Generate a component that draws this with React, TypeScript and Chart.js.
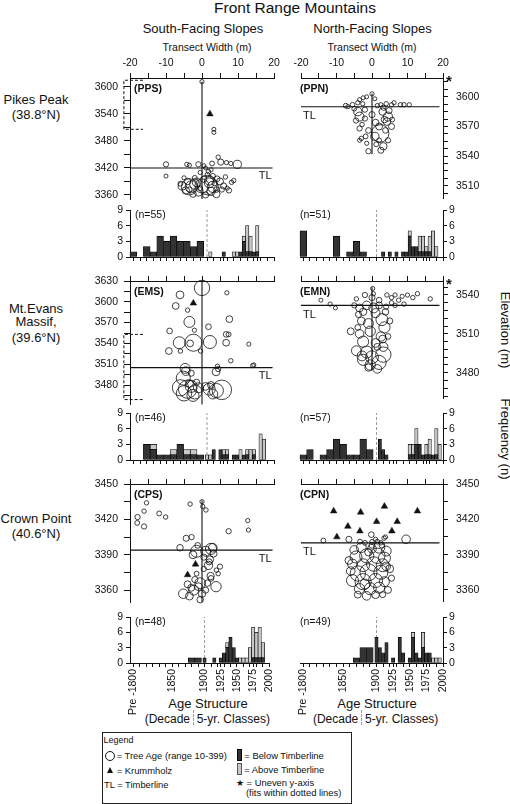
import React, { useEffect, useRef } from 'react';
import { Chart, registerables } from 'chart.js';

Chart.register(...registerables);

const FONT = "'Liberation Sans', Arial, Helvetica, sans-serif";
const INK = '#111111';
const DARK = '#333333';
const LIGHT = '#c8c8c8';

// ---------- categories & tick labels ----------
const DECADES = [1790, 1800, 1810, 1820, 1830, 1840, 1850, 1860, 1870, 1880, 1890];
const FIVES = [1900, 1905, 1910, 1915, 1920, 1925, 1930, 1935, 1940, 1945, 1950, 1955, 1960, 1965, 1970, 1975, 1980, 1985, 1990, 1995];
const AGE_AXIS_TICKS = [1790, 1800, 1810, 1820, 1830, 1840, 1850, 1860, 1870, 1880, 1890, 1900, 1910, 1920, 1925, 1930, 1940, 1950, 1960, 1970, 1975, 1980, 1990, 2000];
const AGE_AXIS_LABELS: Record<number, string> = { 1790: 'Pre -1800', 1850: '1850', 1900: '1900', 1925: '1925', 1950: '1950', 1975: '1975', 2000: '2000' };
const AGE_MIN = 1785;
const AGE_MAX = 2000;
const TRANSECT_TICKS = [-20, -15, -10, -5, 0, 5, 10, 15, 20];
const TRANSECT_LABELS = [-20, -10, 0, 10, 20];
const FREQ_TICKS = [0, 3, 6, 9];

const PPS_TICKS = [3360, 3390, 3420, 3450, 3480, 3510, 3540, 3570, 3600];
const PPS_LABELS = [3360, 3420, 3480, 3540, 3600];
const PPN_TICKS = [3502.5, 3510, 3517.5, 3525, 3532.5, 3540, 3547.5, 3555, 3562.5, 3570, 3577.5, 3585, 3592.5, 3600, 3607.5, 3615];
const PPN_LABELS = [3510, 3540, 3570, 3600];
const EMS_TICKS = [3465, 3480, 3495, 3510, 3525, 3540, 3555, 3570, 3585, 3600, 3615, 3630];
const EMS_LABELS = [3480, 3510, 3540, 3570, 3600, 3630];
const EMN_TICKS = [3462, 3468, 3474, 3480, 3486, 3492, 3498, 3504, 3510, 3516, 3522, 3528, 3534, 3540, 3546];
const EMN_LABELS = [3480, 3510, 3540];
const CP_TICKS = [3360, 3375, 3390, 3405, 3420, 3435, 3450];
const CP_LABELS = [3360, 3390, 3420, 3450];

// ---------- transect points: x (m), elevation (m), tree age (yr) ----------
const ppsX = [0, 3.3, 3.3, -10, -4.2, -3.5, -1, 2.8, 4.5, 5.2, 6.8, 8, 9.8, -10, 1, 2.5, -0.5, 1.5, 3, -2, 0.5, 4.2, 6.5, -4, -1.5, 2, 5, -5.5, -3, 0, 3, 6, -4.5, -1, 2.5, 5.5, -2.5, 1, 4, 8.8, 8.2, 7, -6, -5, 1.8, 0.5, 4, -3.5, -0.5, 3.5, 7.5, 1.5, -3.5, -2, 2];
const ppsY = [3612, 3506, 3499, 3428, 3428, 3426, 3428, 3430, 3444, 3433, 3432, 3430, 3428, 3402, 3420, 3416, 3410, 3405, 3402, 3398, 3395, 3396, 3400, 3390, 3388, 3387, 3390, 3380, 3378, 3380, 3378, 3380, 3370, 3368, 3368, 3372, 3362, 3360, 3362, 3392, 3388, 3375, 3385, 3398, 3412, 3425, 3372, 3372, 3375, 3386, 3370, 3382, 3378, 3384, 3392];
const ppsAge = [15, 10, 10, 40, 20, 15, 40, 30, 20, 60, 15, 15, 110, 10, 10, 15, 15, 25, 40, 30, 60, 50, 20, 70, 120, 150, 80, 110, 200, 250, 180, 60, 90, 140, 110, 40, 70, 60, 90, 20, 20, 15, 30, 15, 20, 10, 50, 40, 30, 35, 40, 380, 300, 160, 130];
const ppsKX = [2.2];
const ppsKY = [3540];

const ppnX = [0, 0.8, -2.5, -3.5, -1.5, -7.4, -6.8, -5.5, -4, -2.6, 1.5, 2.5, 4, 5.5, 6.2, 8, 9, 10.5, 3.2, -4, -3.5, -2, 3, 4.5, 3.5, 4.2, 5.5, 2, -3.5, -2.8, 2.3, 0.8, -1, -3, -3.5, -1.8, 3.2, 2.5, 1.2, 4.5, -1.5, 5.7, -4.5, 0, -5, 1, 3.8, -2, 4.8, -1, 2];
const ppnY = [3603, 3598, 3599, 3597, 3600, 3591, 3590, 3592, 3594, 3593, 3591, 3592, 3593, 3592, 3594, 3592, 3592, 3592, 3589, 3585, 3580, 3587, 3585, 3580, 3577, 3575, 3570, 3570, 3568, 3572, 3563, 3560, 3566, 3558, 3556, 3560, 3550, 3546, 3552, 3556, 3553, 3577, 3576, 3582, 3588, 3574, 3566, 3578, 3586, 3545, 3556];
const ppnAge = [15, 10, 10, 15, 10, 30, 15, 25, 20, 15, 20, 15, 20, 15, 15, 20, 20, 15, 40, 110, 130, 40, 90, 130, 70, 100, 60, 80, 40, 20, 330, 110, 50, 20, 10, 30, 90, 60, 30, 40, 15, 30, 40, 60, 30, 70, 50, 40, 60, 40, 30];
const ppnKX: number[] = [];
const ppnKY: number[] = [];

const emsX = [0, -6.1, 6.9, -7.3, -4, -3.5, 7.6, -2.1, 1.8, -9, -6.3, -3.3, -2.4, 2.2, 6.7, 7.4, 6.7, -9.2, -6, -0.4, 8, 13, 14.1, 4.3, -4.7, 3.9, -5.2, -6, -4, -3, -2, -5, -1, -3.5, -2.5, 2, 4, 5.5, 3, 1, -4.5, -3, -1.5, 2.5, 4.5, 14.4];
const emsY = [3620, 3610, 3613, 3594, 3588, 3571, 3575, 3559, 3564, 3558, 3541, 3540, 3541, 3542, 3553, 3553, 3541, 3529, 3529, 3529, 3515, 3539, 3508, 3507, 3504, 3499, 3490, 3476, 3474, 3478, 3470, 3468, 3476, 3482, 3465, 3474, 3472, 3473, 3467, 3478, 3500, 3497, 3484, 3480, 3503, 3509];
const emsAge = [280, 100, 15, 75, 20, 175, 75, 15, 50, 50, 200, 75, 320, 225, 50, 30, 75, 75, 20, 20, 20, 15, 20, 20, 150, 100, 250, 300, 350, 200, 250, 280, 150, 100, 200, 200, 250, 380, 150, 100, 120, 60, 60, 80, 40, 10];
const emsKX = [-2.4];
const emsKY = [3598];

const emnX = [0.4, 0.2, 4.2, 5.5, 6.5, 7.5, 8.5, 10, 11.5, 12.8, 16.4, 9, 6.5, 5.5, -14.4, -11.8, -10.3, -4.4, -3.5, -1.5, 0.5, 2, -2.5, 1, 2.8, -3, -1, 3.5, -3.5, -0.5, 2.5, -2.5, 1, 3.2, -4.4, -1.5, 3.2, 0, -2.5, 2, -0.5, 1.5, -3.8, 3.8, 4.5, -4, 0, -2, 2, -5, 4, -6, 5, 1.5, -1, 3, -2.8];
const emnY = [3541, 3545, 3540, 3538, 3540, 3536, 3539, 3540, 3538, 3541, 3537, 3533, 3532, 3534, 3536, 3533, 3530, 3537, 3530, 3532, 3530, 3532, 3527, 3526, 3521, 3520, 3518, 3515, 3510, 3512, 3508, 3504, 3503, 3500, 3497, 3496, 3494, 3492, 3490, 3488, 3486, 3500, 3525, 3527, 3508, 3515, 3538, 3540, 3536, 3532, 3531, 3512, 3520, 3483, 3484, 3506, 3493];
const emnAge = [15, 15, 20, 15, 15, 20, 15, 15, 20, 20, 20, 20, 20, 20, 10, 15, 10, 20, 100, 120, 150, 80, 90, 130, 200, 100, 150, 180, 120, 160, 140, 180, 120, 130, 150, 200, 280, 220, 180, 250, 160, 80, 60, 70, 50, 50, 60, 40, 50, 40, 40, 80, 60, 120, 90, 100, 150];
const emnKX: number[] = [];
const emnKY: number[] = [];

const cpsX = [-15.4, -16.1, -17.9, -18, -16.1, -11.9, -10.1, -3.3, 0, 0.2, 1.1, 12.7, 12.9, 7.4, -4.4, -2.9, -6.1, -1.2, -1.5, 2.5, 2.2, 1.8, 2.4, 4, 4.5, 3, -2.5, 0.5, 1, 3.2, -5.2, -2.3, -1, 3.9, -3.5, 0, 1.5, -0.5, -2, -3, 1, 2.5, -1.5, 0.5, -4, 2, 5, -0.5];
const cpsY = [3434, 3427, 3422, 3417, 3414, 3425, 3422, 3433, 3435, 3431, 3428, 3419, 3411, 3410, 3404, 3405, 3396, 3398, 3393, 3395, 3386, 3381, 3372, 3377, 3374, 3396, 3390, 3388, 3393, 3391, 3357, 3360, 3363, 3363, 3355, 3357, 3366, 3366, 3369, 3362, 3360, 3370, 3374, 3378, 3365, 3384, 3380, 3352];
const cpsAge = [20, 20, 40, 30, 40, 30, 20, 20, 15, 15, 20, 15, 15, 40, 60, 40, 70, 50, 200, 180, 90, 110, 90, 20, 20, 120, 100, 60, 150, 80, 140, 150, 100, 160, 100, 90, 70, 170, 60, 80, 60, 50, 30, 40, 80, 60, 40, 70];
const cpsKX = [-1.8, -4];
const cpsKY = [3382, 3373];

const cpnX = [-13.7, -6.5, -0.2, 9.6, 3.4, 3.8, -3.4, -2, 0, 1.5, 2.5, 1, -5, -3, 0, 2, 4, -4.5, -1.5, 1.5, 3.5, -5.5, -2.5, 0.5, 3, -4, -1, 2.5, -5.5, -2.5, 1, 3.5, -3.5, -0.5, 2, 4.5, -6, 5, -1.5, 1, 3, -4, 0, 2.8, -1, -6.5, 5.5, -2, 4];
const cpnY = [3402, 3403, 3407, 3403, 3404, 3405, 3401, 3400, 3401, 3401, 3400, 3403, 3394, 3396, 3395, 3396, 3393, 3388, 3389, 3389, 3387, 3382, 3381, 3382, 3381, 3374, 3375, 3375, 3368, 3367, 3368, 3367, 3361, 3361, 3362, 3360, 3376, 3378, 3355, 3356, 3356, 3356, 3398, 3398, 3392, 3385, 3370, 3365, 3380];
const cpnAge = [30, 60, 50, 120, 20, 15, 30, 30, 20, 30, 20, 15, 120, 150, 120, 180, 150, 200, 250, 280, 200, 150, 220, 260, 220, 280, 320, 250, 200, 300, 250, 150, 160, 200, 180, 80, 120, 100, 120, 100, 60, 80, 60, 50, 90, 100, 60, 150, 120];
const cpnKX = [-10.8, -3.2, 3.5, 12.8, -6.8, 1.3, 7.1, -3.4, 5.6, -9.9];
const cpnKY = [3427, 3426, 3431, 3427, 3414, 3418, 3418, 3410, 3410, 3405];

// ---------- age structure (frequency per class) ----------
const ppsDecDark = [1, 0, 2, 1, 4, 3, 4, 3, 3, 2, 3];
const ppsDecLight = [0, 0, 0, 0, 0, 0, 0, 0, 0, 0, 0];
const ppsFiveDark = [0, 0, 0, 0, 0, 1, 0, 0, 0, 0, 1, 3, 1, 1, 1, 1, 0, 0, 0, 0];
const ppsFiveLight = [0, 1, 0, 0, 0, 0, 0, 0, 1, 1, 0, 1, 5, 3, 0, 5, 0, 0, 0, 0];

const ppnDecDark = [5, 0, 0, 0, 0, 4, 0, 1, 3, 1, 0];
const ppnDecLight = [0, 0, 0, 0, 0, 0, 0, 0, 0, 0, 0];
const ppnFiveDark = [0, 0, 1, 0, 1, 0, 1, 0, 1, 1, 4, 2, 2, 1, 1, 1, 1, 0, 0, 0];
const ppnFiveLight = [0, 0, 0, 0, 0, 0, 0, 0, 0, 0, 1, 0, 0, 3, 3, 1, 3, 5, 2, 0];

const emsDecDark = [0, 0, 3, 2, 1, 1, 1, 3, 1, 1, 1];
const emsDecLight = [0, 0, 0, 1, 0, 0, 1, 0, 1, 1, 0];
const emsFiveDark = [0, 0, 2, 0, 2, 1, 1, 0, 1, 1, 0, 1, 1, 0, 1, 0, 0, 0, 0, 0];
const emsFiveLight = [1, 1, 0, 0, 0, 1, 1, 0, 0, 0, 2, 0, 1, 2, 1, 0, 5, 4, 0, 0];

const emnDecDark = [1, 2, 0, 1, 2, 4, 3, 1, 1, 4, 2];
const emnDecLight = [0, 0, 0, 0, 0, 0, 0, 0, 0, 0, 0];
const emnFiveDark = [0, 4, 2, 1, 0, 0, 0, 0, 0, 0, 1, 1, 3, 3, 1, 1, 1, 1, 1, 0];
const emnFiveLight = [0, 0, 0, 0, 0, 0, 0, 0, 0, 0, 2, 2, 3, 0, 0, 2, 3, 0, 5, 3];

const cpsDecDark = [0, 0, 0, 0, 0, 0, 0, 0, 0, 1, 1];
const cpsDecLight = [0, 0, 0, 0, 0, 0, 0, 0, 0, 0, 0];
const cpsFiveDark = [1, 0, 0, 1, 0, 1, 2, 3, 5, 3, 1, 0, 0, 0, 0, 1, 1, 1, 1, 0];
const cpsFiveLight = [0, 0, 0, 0, 0, 0, 0, 1, 0, 0, 0, 1, 1, 1, 3, 6, 5, 6, 3, 0];

const cpnDecDark = [0, 0, 0, 0, 0, 0, 0, 0, 1, 3, 3];
const cpnDecLight = [0, 0, 0, 0, 0, 0, 0, 0, 0, 0, 0];
const cpnFiveDark = [5, 3, 2, 4, 0, 1, 0, 5, 2, 0, 1, 5, 2, 1, 3, 2, 2, 0, 0, 0];
const cpnFiveLight = [0, 0, 0, 0, 0, 0, 0, 0, 0, 0, 0, 1, 0, 0, 3, 0, 0, 1, 1, 1];

// ---------- helpers ----------
const radiusForAge = (age: number) => 1.8 + age * 0.021;

const YW = 46;
const XH = 36;
const PAD = 14;
const PADB = 14;
const HYW = 30;
const BR_IN = -16.4;
const BR_OUT = -21.7;

type Box = { l: number; t: number; r: number; b: number };

type ScatterSpec = {
  code: string; side: 'left' | 'right';
  xs: number[]; ys: number[]; ages: number[]; kx: number[]; ky: number[];
  tl: number; tlFrom: number; tlTo: number;
  stem: number[] | null; bracket: number[] | null;
  yMin: number; yMax: number; yTicks: number[]; yLabels: number[];
  dashed: boolean; star: boolean; xLabels: boolean; box: Box;
};

type HistSpec = {
  n: string; side: 'left' | 'right';
  decDark: number[]; decLight: number[]; fiveDark: number[]; fiveLight: number[];
  labels: boolean; box: Box;
};

const SCATTERS: ScatterSpec[] = [
  { code: '(PPS)', side: 'left', xs: ppsX, ys: ppsY, ages: ppsAge, kx: ppsKX, ky: ppsKY, tl: 3420, tlFrom: -20, tlTo: 19.6, stem: [3612, 3351], bracket: [3615, 3506], yMin: 3351, yMax: 3620, yTicks: PPS_TICKS, yLabels: PPS_LABELS, dashed: false, star: false, xLabels: true, box: { l: 130, t: 78, r: 274, b: 199 } },
  { code: '(PPN)', side: 'right', xs: ppnX, ys: ppnY, ages: ppnAge, kx: ppnKX, ky: ppnKY, tl: 3590, tlFrom: -20, tlTo: 19, stem: [3603, 3542], bracket: null, yMin: 3497, yMax: 3619, yTicks: PPN_TICKS, yLabels: PPN_LABELS, dashed: true, star: true, xLabels: true, box: { l: 301, t: 78, r: 443, b: 199 } },
  { code: '(EMS)', side: 'left', xs: emsX, ys: emsY, ages: emsAge, kx: emsKX, ky: emsKY, tl: 3505, tlFrom: -20, tlTo: 19.6, stem: [3630, 3452], bracket: [3553, 3459], yMin: 3452.6, yMax: 3630, yTicks: EMS_TICKS, yLabels: EMS_LABELS, dashed: false, star: false, xLabels: false, box: { l: 130, t: 281, r: 274, b: 404 } },
  { code: '(EMN)', side: 'right', xs: emnX, ys: emnY, ages: emnAge, kx: emnKX, ky: emnKY, tl: 3532, tlFrom: -20, tlTo: 19, stem: [3546, 3482], bracket: null, yMin: 3460, yMax: 3550.8, yTicks: EMN_TICKS, yLabels: EMN_LABELS, dashed: true, star: true, xLabels: false, box: { l: 301, t: 281, r: 443, b: 399 } },
  { code: '(CPS)', side: 'left', xs: cpsX, ys: cpsY, ages: cpsAge, kx: cpsKX, ky: cpsKY, tl: 3394, tlFrom: -20, tlTo: 19.6, stem: [3436, 3350], bracket: null, yMin: 3350, yMax: 3450, yTicks: CP_TICKS, yLabels: CP_LABELS, dashed: false, star: false, xLabels: false, box: { l: 130, t: 484, r: 274, b: 602 } },
  { code: '(CPN)', side: 'right', xs: cpnX, ys: cpnY, ages: cpnAge, kx: cpnKX, ky: cpnKY, tl: 3400, tlFrom: -20, tlTo: 19, stem: null, bracket: null, yMin: 3350, yMax: 3450, yTicks: CP_TICKS, yLabels: CP_LABELS, dashed: false, star: false, xLabels: false, box: { l: 301, t: 484, r: 443, b: 602 } },
];

const HISTS: HistSpec[] = [
  { n: '(n=55)', side: 'left', decDark: ppsDecDark, decLight: ppsDecLight, fiveDark: ppsFiveDark, fiveLight: ppsFiveLight, labels: false, box: { l: 130, t: 210, r: 274, b: 257 } },
  { n: '(n=51)', side: 'right', decDark: ppnDecDark, decLight: ppnDecLight, fiveDark: ppnFiveDark, fiveLight: ppnFiveLight, labels: false, box: { l: 300, t: 210, r: 443, b: 257 } },
  { n: '(n=46)', side: 'left', decDark: emsDecDark, decLight: emsDecLight, fiveDark: emsFiveDark, fiveLight: emsFiveLight, labels: false, box: { l: 130, t: 413, r: 274, b: 460 } },
  { n: '(n=57)', side: 'right', decDark: emnDecDark, decLight: emnDecLight, fiveDark: emnFiveDark, fiveLight: emnFiveLight, labels: false, box: { l: 300, t: 413, r: 443, b: 460 } },
  { n: '(n=48)', side: 'left', decDark: cpsDecDark, decLight: cpsDecLight, fiveDark: cpsFiveDark, fiveLight: cpsFiveLight, labels: true, box: { l: 130, t: 617, r: 274, b: 663 } },
  { n: '(n=49)', side: 'right', decDark: cpnDecDark, decLight: cpnDecLight, fiveDark: cpnFiveDark, fiveLight: cpnFiveLight, labels: true, box: { l: 300, t: 617, r: 443, b: 663 } },
];

function scatterFrame(s: ScatterSpec) {
  const w = s.box.r - s.box.l;
  const h = s.box.b - s.box.t;
  if (s.side === 'left') return { x: s.box.l - YW, y: s.box.t - XH, w: YW + w + PAD, h: XH + h + PADB };
  return { x: s.box.l - PAD, y: s.box.t - XH, w: PAD + w + YW, h: XH + h + PADB };
}

function histFrame(hs: HistSpec) {
  const w = hs.box.r - hs.box.l;
  const h = hs.box.b - hs.box.t;
  const xh = hs.labels ? 62 : 10;
  if (hs.side === 'left') return { x: hs.box.l - HYW, y: hs.box.t - 10, w: HYW + w + 10, h: 10 + h + xh };
  return { x: hs.box.l - 10, y: hs.box.t - 10, w: 10 + w + HYW, h: 10 + h + xh };
}

const axisFont = { family: FONT, size: 10.5 };

function scatterConfig(s: ScatterSpec): any {
  const datasets: any[] = [];
  datasets.push({ type: 'line', data: [{ x: s.tlFrom, y: s.tl }, { x: s.tlTo, y: s.tl }], borderColor: INK, borderWidth: 1.1, pointRadius: 0, clip: false, fill: false });
  if (s.stem) datasets.push({ type: 'line', data: [{ x: 0, y: s.stem[0] }, { x: 0, y: s.stem[1] }], borderColor: INK, borderWidth: 1.1, pointRadius: 0, clip: false, fill: false });
  if (s.bracket) datasets.push({ type: 'line', data: [{ x: BR_IN, y: s.bracket[0] }, { x: BR_OUT, y: s.bracket[0] }, { x: BR_OUT, y: s.bracket[1] }, { x: BR_IN, y: s.bracket[1] }], borderColor: INK, borderWidth: 1, borderDash: [3, 2], pointRadius: 0, clip: false, fill: false });
  datasets.push({ type: 'bubble', data: s.xs.map((x, i) => ({ x, y: s.ys[i], r: radiusForAge(s.ages[i]) })), backgroundColor: 'rgba(0,0,0,0)', borderColor: INK, borderWidth: 0.8, clip: false });
  if (s.kx.length) datasets.push({ type: 'scatter', data: s.kx.map((x, i) => ({ x, y: s.ky[i] })), pointStyle: 'triangle', pointRadius: 3.8, backgroundColor: INK, borderColor: INK, borderWidth: 0.5, clip: false, showLine: false });

  const textPlugin = {
    id: 'panelText',
    afterDraw(chart: any) {
      const { ctx, chartArea: a, scales } = chart;
      ctx.save();
      ctx.fillStyle = INK;
      ctx.textBaseline = 'top';
      ctx.textAlign = 'left';
      ctx.font = `bold 10.5px ${FONT}`;
      ctx.fillText(s.code, s.side === 'left' ? a.left + 4 : a.left - 1, a.top + 6);
      ctx.font = `11px ${FONT}`;
      const ty = scales.y.getPixelForValue(s.tl) + 3;
      if (s.side === 'left') {
        ctx.textAlign = 'right';
        ctx.fillText('TL', scales.x.getPixelForValue(s.tlTo) - 1, ty);
      } else {
        ctx.fillText('TL', a.left + 2, ty + 1);
      }
      if (s.star) {
        ctx.textAlign = 'left';
        ctx.font = `bold 15px ${FONT}`;
        ctx.fillText('*', a.right + 3, a.top - 4);
      }
      ctx.restore();
    },
  };

  return {
    type: 'bubble',
    data: { datasets },
    options: {
      responsive: false,
      animation: false,
      events: [],
      layout: { padding: s.side === 'left' ? { left: 0, right: PAD, top: 0, bottom: PADB } : { left: PAD, right: 0, top: 0, bottom: PADB } },
      plugins: { legend: { display: false }, tooltip: { enabled: false } },
      scales: {
        x: {
          type: 'linear', position: 'top', min: -20, max: 20,
          afterBuildTicks: (sc: any) => { sc.ticks = TRANSECT_TICKS.map((v) => ({ value: v })); },
          afterFit: (sc: any) => { sc.height = XH; },
          border: { display: true, color: INK, width: 1 },
          grid: { drawOnChartArea: false, drawTicks: true, tickLength: 5, color: INK, tickColor: INK, lineWidth: 1 },
          ticks: { display: s.xLabels, autoSkip: false, maxRotation: 0, minRotation: 0, padding: 4, color: INK, font: axisFont, callback: (v: any) => (TRANSECT_LABELS.includes(v) ? String(v) : '') },
        },
        y: {
          type: 'linear', position: s.side, min: s.yMin, max: s.yMax,
          afterBuildTicks: (sc: any) => { sc.ticks = s.yTicks.map((v) => ({ value: v })); },
          afterFit: (sc: any) => { sc.width = YW; },
          border: { display: true, color: INK, width: 1, dash: s.dashed ? [3, 2] : [] },
          grid: { drawOnChartArea: false, drawTicks: true, tickLength: s.side === 'left' ? 6 : 5, color: INK, tickColor: INK, lineWidth: 1 },
          ticks: { autoSkip: false, padding: s.side === 'left' ? 6 : 8, color: INK, font: axisFont, callback: (v: any) => (s.yLabels.includes(v) ? String(v) : '') },
        },
      },
    },
    plugins: [textPlugin],
  };
}

function histConfig(hs: HistSpec): any {
  const pxPerYear = (hs.box.r - hs.box.l) / (AGE_MAX - AGE_MIN);
  const decW = pxPerYear * 10;
  const fiveW = pxPerYear * 5;
  const base = { type: 'bar', xAxisID: 'x', yAxisID: 'y', grouped: false, borderColor: '#000', borderWidth: 0.7, borderSkipped: false, clip: false };
  const darkPts = (years: number[], d: number[]) => years.map((yr, i) => ({ x: yr, y: d[i] ? [0, d[i]] : null }));
  const lightPts = (years: number[], d: number[], l: number[]) => years.map((yr, i) => ({ x: yr, y: l[i] ? [d[i], d[i] + l[i]] : null }));
  const datasets: any[] = [
    { ...base, data: darkPts(DECADES, hs.decDark), backgroundColor: DARK, barThickness: decW },
    { ...base, data: lightPts(DECADES, hs.decDark, hs.decLight), backgroundColor: LIGHT, barThickness: decW },
    { ...base, data: darkPts(FIVES, hs.fiveDark), backgroundColor: DARK, barThickness: fiveW },
    { ...base, data: lightPts(FIVES, hs.fiveDark, hs.fiveLight), backgroundColor: LIGHT, barThickness: fiveW },
    { type: 'line', xAxisID: 'x', yAxisID: 'y', data: [{ x: 1900, y: 0 }, { x: 1900, y: 9 }], borderColor: '#9a9a9a', borderWidth: 1, borderDash: [3, 2], pointRadius: 0, fill: false },
  ];
  const textPlugin = {
    id: 'histText',
    afterDraw(chart: any) {
      const { ctx, chartArea: a } = chart;
      ctx.save();
      ctx.fillStyle = INK;
      ctx.textBaseline = 'top';
      ctx.font = `10.5px ${FONT}`;
      ctx.fillText(hs.n, hs.side === 'left' ? a.left + 5 : a.left, a.top);
      ctx.restore();
    },
  };
  return {
    type: 'bar',
    data: { datasets },
    options: {
      responsive: false,
      animation: false,
      events: [],
      layout: { padding: hs.side === 'left' ? { left: 0, right: 10, top: 10, bottom: 0 } : { left: 10, right: 0, top: 10, bottom: 0 } },
      plugins: { legend: { display: false }, tooltip: { enabled: false } },
      scales: {
        x: {
          type: 'linear', position: 'bottom', min: AGE_MIN, max: AGE_MAX, offset: false,
          afterBuildTicks: (sc: any) => { sc.ticks = AGE_AXIS_TICKS.map((v) => ({ value: v })); },
          afterFit: (sc: any) => { sc.height = hs.labels ? 62 : 10; },
          border: { display: true, color: INK, width: 1 },
          grid: { offset: false, drawOnChartArea: false, drawTicks: true, tickLength: 4, color: INK, tickColor: INK, lineWidth: 1 },
          ticks: { display: hs.labels, autoSkip: false, minRotation: 90, maxRotation: 90, padding: 2, color: INK, font: axisFont, callback: (v: any) => AGE_AXIS_LABELS[v] || '' },
        },
        y: {
          type: 'linear', position: hs.side, min: 0, max: 9,
          afterBuildTicks: (sc: any) => { sc.ticks = FREQ_TICKS.map((v) => ({ value: v })); },
          afterFit: (sc: any) => { sc.width = HYW; },
          border: { display: true, color: INK, width: 1 },
          grid: { drawOnChartArea: false, drawTicks: true, tickLength: 4, color: INK, tickColor: INK, lineWidth: 1 },
          ticks: { autoSkip: false, padding: hs.side === 'left' ? 3 : 2, color: INK, font: axisFont },
        },
      },
    },
    plugins: [textPlugin],
  };
}

function ChartCanvas({ x, y, w, h, make }: { x: number; y: number; w: number; h: number; make: () => any }) {
  const ref = useRef<HTMLCanvasElement | null>(null);
  useEffect(() => {
    const chart = new Chart(ref.current as HTMLCanvasElement, make());
    return () => chart.destroy();
  }, []);
  return <canvas ref={ref} width={w} height={h} style={{ position: 'absolute', left: x, top: y, width: w, height: h }} />;
}

function Txt({ x, y, size, children, center = false, bold = false, style = {} }: any) {
  return (
    <div style={{ position: 'absolute', left: x, top: y, fontSize: size, lineHeight: 1, whiteSpace: 'nowrap', fontWeight: bold ? 'bold' : 'normal', transform: center ? 'translateX(-50%)' : undefined, ...style }}>
      {children}
    </div>
  );
}

function VTxt({ cx, cy, size, children }: any) {
  return (
    <div style={{ position: 'absolute', left: cx, top: cy, fontSize: size, lineHeight: 1, whiteSpace: 'nowrap', transform: 'translate(-50%, -50%) rotate(90deg)' }}>
      {children}
    </div>
  );
}

export default function App() {
  return (
    <div style={{ position: 'absolute', left: 0, top: 0, width: 510, height: 804, background: '#fff', fontFamily: FONT, color: INK, overflow: 'hidden' }}>
      <Txt x={295} y={0} size={15.5} center>Front Range Mountains</Txt>
      <Txt x={203} y={21.5} size={13} center>South-Facing Slopes</Txt>
      <Txt x={372.5} y={21.5} size={13} center>North-Facing Slopes</Txt>
      <Txt x={207} y={41.5} size={10.5} center>Transect Width (m)</Txt>
      <Txt x={372} y={41.5} size={10.5} center>Transect Width (m)</Txt>

      <Txt x={36} y={93.3} size={13} center>Pikes Peak</Txt>
      <Txt x={36} y={107.8} size={13} center>(38.8°N)</Txt>
      <Txt x={36} y={301.6} size={13} center>Mt.Evans</Txt>
      <Txt x={36} y={315} size={13} center>Massif,</Txt>
      <Txt x={36} y={331} size={13} center>(39.6°N)</Txt>
      <Txt x={36} y={511.6} size={13} center>Crown Point</Txt>
      <Txt x={36} y={526.6} size={13} center>(40.6°N)</Txt>

      <VTxt cx={505} cy={330} size={13}>Elevation (m)</VTxt>
      <VTxt cx={505} cy={438.5} size={13}>Frequency (n)</VTxt>

      <Txt x={208} y={696.6} size={13} center>Age Structure</Txt>
      <Txt x={377} y={696.6} size={13} center>Age Structure</Txt>
      <Txt x={190} y={713} size={12} style={{ transform: 'translateX(-100%)' }}>(Decade</Txt>
      <Txt x={196.7} y={713} size={12}>5-yr. Classes)</Txt>
      <Txt x={358.3} y={713} size={12} style={{ transform: 'translateX(-100%)' }}>(Decade</Txt>
      <Txt x={365} y={713} size={12}>5-yr. Classes)</Txt>
      <div style={{ position: 'absolute', left: 192.5, top: 710, height: 15, borderLeft: '1px dashed #9a9a9a' }} />
      <div style={{ position: 'absolute', left: 360.8, top: 710, height: 15, borderLeft: '1px dashed #9a9a9a' }} />

      {SCATTERS.map((s) => {
        const f = scatterFrame(s);
        return <ChartCanvas key={s.code} x={f.x} y={f.y} w={f.w} h={f.h} make={() => scatterConfig(s)} />;
      })}
      {HISTS.map((hs) => {
        const f = histFrame(hs);
        return <ChartCanvas key={hs.n} x={f.x} y={f.y} w={f.w} h={f.h} make={() => histConfig(hs)} />;
      })}

      <div style={{ position: 'absolute', left: 102, top: 732, width: 248, height: 70, border: '1px solid #222' }} />
      <Txt x={103.5} y={735.5} size={9}>Legend</Txt>
      <div style={{ position: 'absolute', left: 105, top: 750.7, width: 8, height: 8, border: '1px solid #111', borderRadius: '50%' }} />
      <Txt x={116.7} y={750.8} size={9.4}>= Tree Age (range 10-399)</Txt>
      <div style={{ position: 'absolute', left: 107, top: 767.3, width: 0, height: 0, borderLeft: '3.5px solid transparent', borderRight: '3.5px solid transparent', borderBottom: '6px solid #111' }} />
      <Txt x={116.7} y={765.5} size={9.4}>= Krummholz</Txt>
      <Txt x={104} y={779.5} size={9.4}>TL = Timberline</Txt>
      <div style={{ position: 'absolute', left: 237.3, top: 749, width: 3, height: 10, background: DARK, border: '1px solid #000' }} />
      <Txt x={244.3} y={750.5} size={9.4}>= Below Timberline</Txt>
      <div style={{ position: 'absolute', left: 237.3, top: 763.3, width: 3, height: 10, background: LIGHT, border: '1px solid #555' }} />
      <Txt x={244.3} y={764.8} size={9.4}>= Above Timberline</Txt>
      <Txt x={236} y={778.3} size={9.4}>★ = Uneven y-axis</Txt>
      <Txt x={246} y={788} size={9.4}>(fits within dotted lines)</Txt>
    </div>
  );
}
